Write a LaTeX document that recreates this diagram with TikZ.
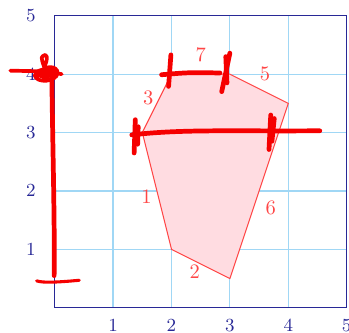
\documentclass[tikz,border=0pt]{standalone}
\usetikzlibrary{positioning}
\definecolor{axisblue}{RGB}{40,40,150}
\definecolor{gridblue}{RGB}{160,215,245}
\definecolor{polyfill}{RGB}{255,220,225}
\definecolor{polyline}{RGB}{255,70,70}
\definecolor{inkred}{RGB}{245,0,0}
\tikzset{
  ticklabel/.style={text=axisblue, font=\fontsize{9.5}{10}\selectfont, inner sep=1pt},
  edgelabel/.style={text=polyline, font=\fontsize{10}{11}\selectfont, inner sep=1pt},
  ink/.style={inkred, line width=2.3pt, line cap=round, line join=round}
}
\begin{document}
\begin{tikzpicture}
\useasboundingbox (-0.937,-0.422) rectangle (5.04,5.27);
\draw[gridblue, line width=0.6pt] (0,0) grid (5,5);
\draw[axisblue, line width=0.7pt] (0,0) rectangle (5,5);
\foreach \i in {1,...,5} {
  \node[ticklabel] (xl\i) at (\i,-0.31) {$\i$};
  \node[ticklabel] (yl\i) at (-0.41,\i) {$\i$};
}
\draw[polyline, fill=polyfill, line width=0.5pt]
  (1.5,3) -- (2,1) -- (3,0.5) -- (4,3.5) -- (3,4) -- (2,4) -- cycle;
\node[edgelabel] (e1) at (1.57,1.91) {1};
\node[edgelabel] (e2) at (2.40,0.62) {2};
\node[edgelabel] (e3) at (1.60,3.59) {3};
\node[edgelabel] (e5) at (3.60,4.00) {5};
\node[edgelabel] (e6) at (3.70,1.71) {6};
\node[edgelabel] (e7) at (2.50,4.33) {7};
% hand marks
\fill[inkred] (-0.17,4.01) ellipse (0.14 and 0.09);
\draw[ink, line width=1.8pt] (-0.76,4.06) -- (-0.3,4.05) .. controls (-0.1,4.04) .. (0.12,4.0);
\draw[ink, line width=1.8pt] (-0.3,3.95) .. controls (-0.2,4.18) and (0.05,4.15) .. (0.05,4.02)
  .. controls (0.03,3.86) and (-0.32,3.84) .. (-0.34,3.98)
  .. controls (-0.3,4.12) and (0.0,4.12) .. (0.02,3.96)
  .. controls (-0.05,3.86) and (-0.25,3.9) .. (-0.2,4.05)
  .. controls (-0.15,4.2) and (-0.1,4.3) .. (-0.16,4.33)
  .. controls (-0.24,4.3) .. (-0.18,4.12);
\draw[ink] (-0.05,4.0) .. controls (-0.03,2.5) and (0.0,1.5) .. (-0.01,0.55);
\draw[ink, line width=1.5pt] (-0.31,0.46) .. controls (-0.2,0.42) and (0.1,0.44) .. (0.42,0.47);
\draw[ink] (1.83,3.99) .. controls (2.3,4.03) .. (2.83,4.02);
\draw[ink] (1.99,4.33) -- (1.95,3.79);
\draw[ink] (3.0,4.36) -- (2.86,3.70);
\draw[ink] (2.93,4.30) -- (2.95,3.85);
\draw[ink] (1.32,2.96) .. controls (2.2,3.06) and (3.0,3.02) .. (4.54,3.03);
\draw[ink] (1.38,3.22) -- (1.36,2.65);
\draw[ink] (1.43,3.1) -- (1.42,2.8);
\draw[ink] (3.70,3.30) -- (3.67,2.71);
\draw[ink] (3.76,3.24) -- (3.72,2.85);
\end{tikzpicture}
\end{document}
